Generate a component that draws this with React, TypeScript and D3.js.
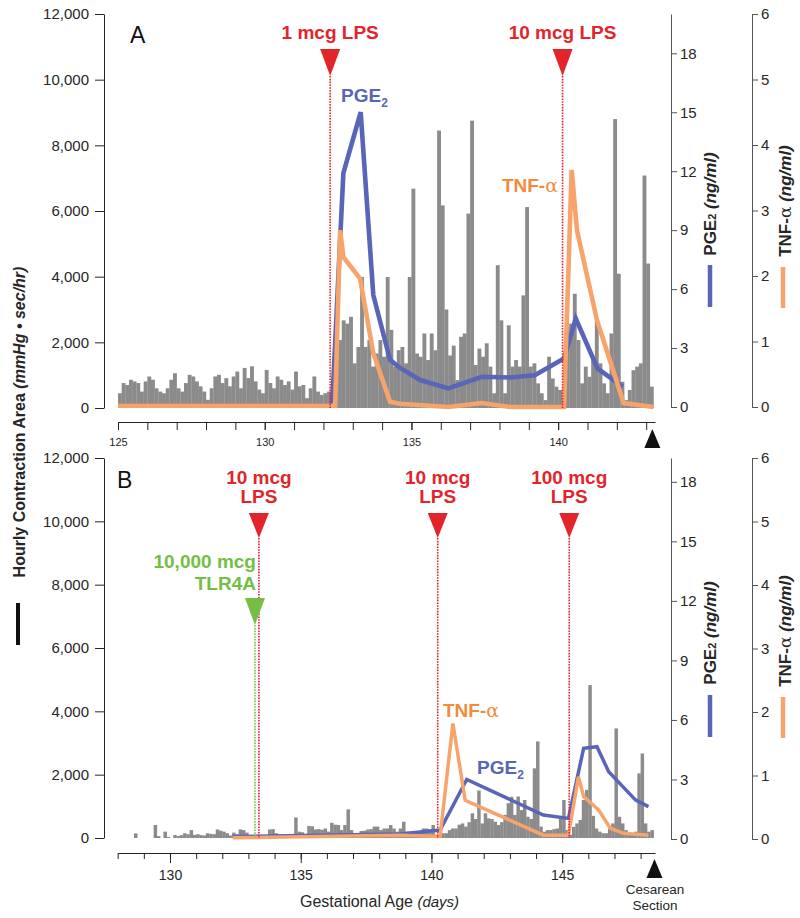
import React, { useRef, useEffect } from "react";
import * as d3 from "d3";

// hourly contraction area, summarised in 3 h bins (1/8 day)
const barStep = 0.125;

const contractionStartA = 125;
const contractionA = [
  450, 760, 700, 860, 810, 760, 500, 810, 960, 860,
  600, 500, 450, 600, 860, 1060, 600, 500, 760, 1010,
  960, 810, 660, 500, 250, 600, 960, 1010, 760, 910,
  660, 960, 1110, 600, 1220, 910, 1270, 810, 560, 450,
  1160, 760, 600, 960, 860, 700, 810, 560, 1110, 660,
  700, 300, 600, 960, 500, 400, 450, 500,
  100, 1900, 2070, 2670, 2570, 2780, 1360, 1860, 3990, 1860,
  2070, 1260, 1660, 2070, 1560, 3990, 2380, 1260, 1760, 1860,
  1360, 3990, 6680, 1660, 1560, 2270, 1460, 2270, 1760, 8450,
  6170, 3000, 1600, 1900, 850, 2170, 2270, 5920, 8750, 1310,
  1810, 1560, 1970, 1260, 450, 4350, 2670, 450, 2520, 1260,
  1460, 1260, 3430, 6120, 1260, 1360, 750, 450, 240, 1560,
  900, 650, 550, 100, 2470, 2570, 3480, 2070, 750, 1260,
  950, 1460, 2670, 1360, 750, 450, 2270, 8800, 4090, 800,
  240, 550, 1150, 1260, 1360, 7080, 4400, 650,
];

const contractionStartB = 128.5;
const contractionB = [
  0, 147, 0, 0, 0, 0, 0, 410, 60, 0,
  200, 30, 0, 95, 60, 90, 150, 120, 250, 100,
  120, 90, 80, 150, 130, 120, 270, 230, 200, 150,
  80, 170, 120, 270, 250, 170, 90, 60, 40, 50,
  80, 50, 270, 280, 150, 60, 100, 115, 110, 120,
  650, 200, 180, 120, 380, 370, 270, 280, 260, 300,
  200, 480, 420, 410, 250, 410, 905, 250, 150, 130,
  220, 230, 270, 280, 360, 360, 250, 300, 300, 410,
  300, 200, 300, 515, 200, 200, 180, 200, 220, 300,
  300, 260, 410, 100, 50, 150, 150, 250, 300, 300,
  420, 460, 360, 500, 780, 600, 1500, 460, 780, 620,
  600, 515, 410, 500, 730, 1100, 1300, 730, 1310, 880,
  1200, 670, 600, 2200, 3050, 360, 200, 250, 250, 280,
  300, 620, 1200, 250, 100, 350, 460, 570, 1200, 1520,
  4830, 700, 300, 200, 150, 150, 300, 460, 3460, 670,
  460, 250, 150, 150, 200, 2040, 2670, 460, 200, 250,
];

// [gestational day, ng/ml]
const pgeA = [
  [125, 0.15], [132.3, 0.15], [132.68, 11.9], [133.27, 15.0], [133.7, 5.7],
  [134.27, 2.4], [134.6, 2.0], [135.3, 1.37], [136.26, 0.95], [137.4, 1.54],
  [138.37, 1.5], [139.2, 1.62], [140.2, 2.47], [140.6, 4.5], [141.34, 1.96],
  [142.2, 1.03],
];
const tnfA = [
  [125, 0.02], [132.4, 0.02], [132.57, 2.7], [132.68, 2.29], [133.25, 1.96],
  [133.7, 0.82], [134.27, 0.08], [134.6, 0.05], [136.26, 0.0], [137.4, 0.06],
  [138.37, 0.0], [140.2, 0.0], [140.46, 3.62], [140.64, 2.7], [141.32, 1.33],
  [142.23, 0.06], [143.25, 0.0],
];
const pgeB = [
  [132.4, 0.12], [138.8, 0.25], [140.33, 0.45], [141.35, 3.0], [144.28, 1.21],
  [145.24, 1.04], [145.82, 4.57], [146.33, 4.65], [146.78, 3.39], [147.8, 1.97],
  [148.3, 1.63],
];
const tnfB = [
  [132.4, 0.02], [138.8, 0.06], [140.33, 0.04], [140.82, 1.82], [141.29, 0.61],
  [144.28, 0.06], [145.24, 0.06], [145.62, 0.98], [145.82, 0.67], [146.39, 0.46],
  [146.84, 0.17], [147.35, 0.09], [148.3, 0.06],
];

const lpsA = [
  { day: 132.23, text: ["1 mcg LPS"] },
  { day: 140.15, text: ["10 mcg LPS"] },
];
const lpsB = [
  { day: 133.4, text: ["10 mcg", "LPS"] },
  { day: 140.24, text: ["10 mcg", "LPS"] },
  { day: 145.27, text: ["100 mcg", "LPS"] },
];
const tlr4aB = [{ day: 133.25, text: ["10,000 mcg", "TLR4A"] }];

const deliveryA = 143.21;
const deliveryB = 148.53;

const areaTicks = [0, 2000, 4000, 6000, 8000, 10000, 12000];
const pgeTicks = [0, 3, 6, 9, 12, 15, 18];
const tnfTicks = [0, 1, 2, 3, 4, 5, 6];
const ageLabelsA = [125, 130, 135, 140];
const ageLabelsB = [130, 135, 140, 145];

const FONT = '"Liberation Sans", Arial, Helvetica, sans-serif';
const RED = "#e3242b";
const GREEN = "#74be45";
const BLUE = "#5865b8";
const ORANGE = "#f7a46c";
const ORANGE_TEXT = "#f28b3e";
const GRAY = "#8b8b8b";
const INK = "#262626";
const AXIS = "#555555";

const styleAxis = (g, size, color) => {
  g.attr("font-family", FONT).attr("font-size", size);
  g.selectAll("text").attr("fill", INK).attr("font-size", size).attr("font-family", FONT);
  g.selectAll("line").attr("stroke", color);
  g.select(".domain").attr("stroke", color);
};

const drawPanel = (svg, p) => {
  const x = d3.scaleLinear().domain(p.days).range(p.xRange);
  const yArea = d3.scaleLinear().domain([0, 12000]).range([p.base, p.top]);
  const yPge = d3.scaleLinear().domain([0, p.pgeMax]).range([p.base2, p.top]);
  const yTnf = d3.scaleLinear().domain([0, 6]).range([p.base2, p.top]);

  // contraction bars
  const bw = x(p.barStart + barStep) - x(p.barStart);
  svg
    .append("g")
    .selectAll("rect")
    .data(p.bars)
    .join("rect")
    .attr("x", (d, i) => x(p.barStart + i * barStep))
    .attr("y", (d) => yArea(d))
    .attr("width", bw + 0.2)
    .attr("height", (d) => yArea(0) - yArea(d))
    .attr("fill", GRAY);

  // PGE2 and TNF-a
  const pgeLine = d3.line().x((d) => x(d[0])).y((d) => yPge(d[1]));
  const tnfLine = d3.line().x((d) => x(d[0])).y((d) => yTnf(d[1]));
  if (p.thinLead) {
    svg
      .append("path")
      .attr("d", pgeLine(p.pge.slice(0, 2)))
      .attr("fill", "none")
      .attr("stroke", BLUE)
      .attr("stroke-width", 1.3);
  }
  svg
    .append("path")
    .attr("d", pgeLine(p.thinLead ? p.pge.slice(1) : p.pge))
    .attr("fill", "none")
    .attr("stroke", BLUE)
    .attr("stroke-width", p.lineWidth);
  svg
    .append("path")
    .attr("d", tnfLine(p.tnf))
    .attr("fill", "none")
    .attr("stroke", ORANGE)
    .attr("stroke-width", p.lineWidth);

  // injections
  const marker = (ev, color, top, tip, textY, anchor) => {
    const cx = x(ev.day);
    svg
      .append("line")
      .attr("x1", cx)
      .attr("x2", cx)
      .attr("y1", tip)
      .attr("y2", p.base)
      .attr("stroke", color)
      .attr("stroke-width", 1.6)
      .attr("stroke-dasharray", "1.6 1.2");
    svg
      .append("path")
      .attr("d", `M${cx - 10},${top}L${cx + 10},${top}L${cx},${tip}Z`)
      .attr("fill", color);
    ev.text.forEach((t, i) => {
      svg
        .append("text")
        .attr("x", anchor === "end" ? cx + 1 : cx)
        .attr("y", textY[i])
        .attr("text-anchor", anchor)
        .attr("font-family", FONT)
        .attr("font-weight", "bold")
        .attr("font-size", 19)
        .attr("fill", color)
        .text(t);
    });
  };
  p.events.forEach((ev) => marker(ev, RED, p.evTop, p.evTip, p.evText, "middle"));
  (p.tlr || []).forEach((ev) => marker(ev, GREEN, p.tlrTop, p.tlrTip, p.tlrText, "end"));

  // series labels
  const pl = svg
    .append("text")
    .attr("x", p.pgeLabel[0])
    .attr("y", p.pgeLabel[1])
    .attr("font-family", FONT)
    .attr("font-weight", "bold")
    .attr("font-size", 19)
    .attr("fill", BLUE);
  pl.append("tspan").text("PGE");
  pl.append("tspan").attr("font-size", 12).attr("dy", 5).text("2");
  const tl = svg
    .append("text")
    .attr("x", p.tnfLabel[0])
    .attr("y", p.tnfLabel[1])
    .attr("text-anchor", p.tnfLabel[2])
    .attr("font-family", FONT)
    .attr("font-weight", "bold")
    .attr("font-size", 19)
    .attr("fill", ORANGE_TEXT);
  tl.append("tspan").text("TNF-");
  tl.append("tspan").attr("font-family", '"DejaVu Serif", serif').attr("font-weight", "normal").text("α");

  // axes
  svg
    .append("g")
    .attr("transform", "translate(104,0)")
    .call(
      d3.axisLeft(yArea).tickValues(areaTicks).tickFormat(d3.format(",")).tickSize(9).tickPadding(6).tickSizeOuter(0)
    )
    .call((g) => styleAxis(g, 15, INK));
  svg
    .append("g")
    .attr("transform", "translate(671,0)")
    .call(
      d3.axisRight(yPge).tickValues(pgeTicks).tickFormat(d3.format("d")).tickSize(6).tickPadding(3).tickSizeOuter(0)
    )
    .call((g) => styleAxis(g, 15, AXIS));
  svg
    .append("g")
    .attr("transform", "translate(752,0)")
    .call(
      d3.axisRight(yTnf).tickValues(tnfTicks).tickFormat(d3.format("d")).tickSize(6).tickPadding(3).tickSizeOuter(0)
    )
    .call((g) => styleAxis(g, 15, AXIS));

  const allDays = d3.range(Math.ceil(p.days[0]), Math.floor(p.days[1]) + 1);
  svg
    .append("g")
    .attr("transform", `translate(0,${p.axisY})`)
    .call(d3.axisBottom(x).tickValues(allDays).tickFormat(() => "").tickSize(p.minorTick).tickSizeOuter(0))
    .call((g) => styleAxis(g, p.tickFont, INK));
  svg
    .append("g")
    .attr("transform", `translate(0,${p.axisY})`)
    .call(
      d3.axisBottom(x).tickValues(p.ageLabels).tickFormat(d3.format("d")).tickSize(p.majorTick).tickPadding(p.tickPad).tickSizeOuter(0)
    )
    .call((g) => styleAxis(g, p.tickFont, INK))
    .call((g) => g.select(".domain").remove());

  // delivery marker
  const dx = x(p.delivery);
  svg
    .append("path")
    .attr("d", `M${dx},${p.delTop}L${dx + 8},${p.delTop + 19}L${dx - 8},${p.delTop + 19}Z`)
    .attr("fill", "#111");

  // panel letter
  svg
    .append("text")
    .attr("x", p.letterPos[0])
    .attr("y", p.letterPos[1])
    .attr("font-family", FONT)
    .attr("font-size", 23)
    .attr("fill", "#111")
    .text(p.letter);

  // right axis titles with swatches
  const title = (cx, cy, greek) => {
    const t = svg
      .append("text")
      .attr("transform", `translate(${cx},${cy}) rotate(-90)`)
      .attr("text-anchor", "middle")
      .attr("font-family", FONT)
      .attr("font-weight", "bold")
      .attr("font-size", 17)
      .attr("fill", INK);
    if (greek) {
      t.append("tspan").text("TNF-");
      t.append("tspan").attr("font-family", '"DejaVu Serif", serif').attr("font-weight", "normal").text("α");
    } else {
      t.append("tspan").text("PGE");
      t.append("tspan").attr("font-size", 11).text("2");
    }
    t.append("tspan").attr("font-style", "italic").text(" (ng/ml)");
  };
  title(716, p.pgeTitleY, false);
  title(791, p.tnfTitleY, true);
  svg
    .append("line")
    .attr("x1", 710)
    .attr("x2", 710)
    .attr("y1", p.pgeSwatch[0])
    .attr("y2", p.pgeSwatch[1])
    .attr("stroke", BLUE)
    .attr("stroke-width", 4.5);
  svg
    .append("line")
    .attr("x1", 783)
    .attr("x2", 783)
    .attr("y1", p.tnfSwatch[0])
    .attr("y2", p.tnfSwatch[1])
    .attr("stroke", ORANGE)
    .attr("stroke-width", 4.5);
};

const App = () => {
  const chartSvg = useRef(null);

  useEffect(() => {
    const svg = d3.select(chartSvg.current);
    svg.selectAll("*").remove();

    drawPanel(svg, {
      days: [125, 143.3],
      xRange: [118, 655],
      top: 14,
      base: 408,
      base2: 407,
      pgeMax: 20,
      barStart: contractionStartA,
      bars: contractionA,
      pge: pgeA,
      tnf: tnfA,
      thinLead: true,
      lineWidth: 4.6,
      events: lpsA,
      evTop: 49,
      evTip: 76,
      evText: [39],
      pgeLabel: [341, 102],
      tnfLabel: [558, 192, "end"],
      axisY: 422,
      minorTick: 8,
      majorTick: 8,
      tickPad: 8,
      tickFont: 11,
      ageLabels: ageLabelsA,
      delivery: deliveryA,
      delTop: 429,
      letter: "A",
      letterPos: [130, 43],
      pgeTitleY: 204,
      tnfTitleY: 201,
      pgeSwatch: [265, 307],
      tnfSwatch: [267, 308],
    });

    drawPanel(svg, {
      days: [128, 148.55],
      xRange: [117.7, 655],
      top: 458,
      base: 838,
      base2: 839,
      pgeMax: 19.2,
      barStart: contractionStartB,
      bars: contractionB,
      pge: pgeB,
      tnf: tnfB,
      thinLead: false,
      lineWidth: 3.5,
      events: lpsB,
      evTop: 513,
      evTip: 538,
      evText: [484, 503],
      tlr: tlr4aB,
      tlrTop: 598,
      tlrTip: 625,
      tlrText: [568, 590],
      pgeLabel: [477, 774],
      tnfLabel: [443, 717, "start"],
      axisY: 853,
      minorTick: 6,
      majorTick: 10,
      tickPad: 7,
      tickFont: 14,
      ageLabels: ageLabelsB,
      delivery: deliveryB,
      delTop: 859,
      letter: "B",
      letterPos: [117, 488],
      pgeTitleY: 633,
      tnfTitleY: 631,
      pgeSwatch: [695, 737],
      tnfSwatch: [697, 738],
    });

    // shared left title
    const lt = svg
      .append("text")
      .attr("transform", "translate(25,422) rotate(-90)")
      .attr("text-anchor", "middle")
      .attr("font-family", FONT)
      .attr("font-weight", "bold")
      .attr("font-size", 16)
      .attr("fill", INK);
    lt.append("tspan").text("Hourly Contraction Area ");
    lt.append("tspan").attr("font-style", "italic").text("(mmHg • sec/hr)");
    svg
      .append("line")
      .attr("x1", 18)
      .attr("x2", 18)
      .attr("y1", 603)
      .attr("y2", 645)
      .attr("stroke", "#111")
      .attr("stroke-width", 4);

    // x title
    const xt = svg
      .append("text")
      .attr("x", 300)
      .attr("y", 907)
      .attr("font-family", FONT)
      .attr("font-size", 16)
      .attr("fill", INK);
    xt.append("tspan").text("Gestational Age ");
    xt.append("tspan").attr("font-style", "italic").attr("font-size", 15).text("(days)");

    ["Cesarean", "Section"].forEach((t, i) => {
      svg
        .append("text")
        .attr("x", 655)
        .attr("y", 894 + i * 16)
        .attr("text-anchor", "middle")
        .attr("font-family", FONT)
        .attr("font-size", 13.5)
        .attr("fill", INK)
        .text(t);
    });
  }, []);

  return (
    <div>
      <svg
        ref={chartSvg}
        width={800}
        height={918}
        style={{ position: "absolute", left: 0, top: 0, background: "#fff" }}
      ></svg>
    </div>
  );
};

export default App;
